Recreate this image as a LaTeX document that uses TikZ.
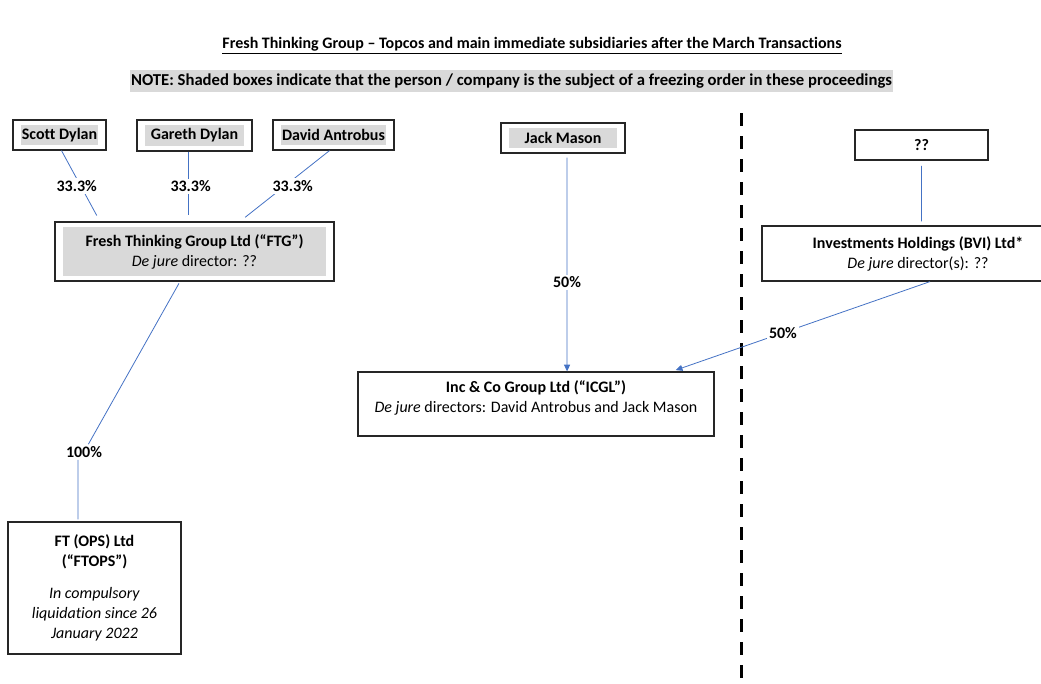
\documentclass[tikz,border=0pt]{standalone}
\usepackage{fontspec}
\setmainfont[Ligatures=NoCommon]{Carlito}
\usetikzlibrary{arrows.meta,positioning,calc}
\definecolor{shadeGray}{RGB}{217,217,217}
\definecolor{linkBlue}{RGB}{68,114,196}

\begin{document}
\begin{tikzpicture}[x=0.75pt,y=-0.75pt,font=\fontsize{12}{15}\selectfont]
		\tikzstyle{company} = [rectangle, draw=black!85, line width=0.9pt, fill=white, 
		align=center, inner sep=0pt]
		\tikzstyle{shaded} = [company, path picture={\fill[shadeGray] 
		($(path picture bounding box.south west)+(6pt,3.75pt)$) rectangle 
		($(path picture bounding box.north east)+(-6pt,-3.75pt)$);}]
		\tikzstyle{person} = [shaded, minimum height=22.5pt, font=\fontsize{12}{15}\selectfont\bfseries]
		\tikzstyle{link} = [draw=linkBlue, line width=0.6pt]
		\tikzstyle{arrow} = [link,-{Triangle[width=4.5pt,length=5pt]}]
		\tikzstyle{pct} = [fill=white, inner sep=1.5pt, font=\fontsize{12}{15}\selectfont\bfseries]
		\useasboundingbox (0,0) rectangle (1041,683);
		\node (title) at (532,46) {\bfseries\underline{Fresh Thinking Group – Topcos and main immediate subsidiaries after the March Transactions}};
		\node (note) [fill=shadeGray, inner xsep=1pt, inner ysep=2.5pt, font=\fontsize{12.5}{15}\selectfont\bfseries] at (511.5,81) 
		{NOTE: Shaded boxes indicate that the person / company is the subject of a freezing order in these proceedings};
		\node (scottDylan) [person, minimum width=69.75pt] at (59.5,135) {Scott Dylan};
		\node (garethDylan) [person, minimum width=86.25pt, minimum height=23.25pt] at (194.5,135.5) {Gareth Dylan};
		\node (davidAntrobus) [person, minimum width=90.75pt] at (333.5,135) {David Antrobus};
		\node (ftg) [shaded, minimum width=209.25pt, minimum height=44.25pt] at (194.5,251.5) 
		{\textbf{Fresh Thinking Group Ltd (“FTG”)}\\\textit{De jure} director: ??};
		\node (ftops) [company, minimum width=129.75pt, minimum height=99pt] at (94.5,588) 
		{\textbf{FT (OPS) Ltd}\\\textbf{(“FTOPS”)}\\[9pt]\textit{In compulsory}\\\textit{liquidation since 26}\\\textit{January 2022}};
		\node (jackMason) [person, minimum width=93pt] at (563,138) {Jack Mason};
		\node (icgl) [company, minimum width=267pt, minimum height=48pt] at (536,404) 
		{\textbf{Inc \& Co Group Ltd (“ICGL”)}\\\textit{De jure} directors: David Antrobus and Jack Mason\\[-4pt]};
		\node (unknownOwner) [company, minimum width=99.75pt, minimum height=22.5pt, font=\fontsize{12}{15}\selectfont\bfseries] at (921.5,145) {??};
		\node (bvi) [company, minimum width=234pt, minimum height=41.25pt] at (918,253.5) 
		{\textbf{Investments Holdings (BVI) Ltd*}\\\textit{De jure} director(s): ??};
		\coordinate (dividerTop) at (741,113);
		\coordinate (dividerBottom) at (741,683);
		\draw [line width=2.25pt, dash pattern=on 9.75pt off 7.5pt] (dividerTop) -- (dividerBottom);
		\draw [link, shorten >=5pt] ([xshift=1.5pt]scottDylan.south) -- node (pctScott) [pct, xshift=-3pt] {33.3\%} ([xshift=-70.9pt]ftg.north);
		\draw [link, shorten >=5pt] ([xshift=-4.9pt]garethDylan.south) -- node (pctGareth) [pct, xshift=2pt] {33.3\%} ([xshift=-4.9pt]ftg.north);
		\draw [link, shorten >=5pt] ([xshift=-3pt]davidAntrobus.south) -- node (pctDavid) [pct, xshift=6pt] {33.3\%} ([xshift=34.1pt]ftg.north);
		\node (pctFtops) [pct] at (84,452) {100\%};
		\draw [link, shorten <=1.5pt] ([xshift=-10.9pt]ftg.south) -- (pctFtops);
		\draw [link, shorten >=1.5pt] ([xshift=-4.5pt]pctFtops.south) -- ([xshift=-12.4pt]ftops.north);
		\draw [arrow, shorten <=3pt] ([xshift=3pt]jackMason.south) -- node (pctJack) [pct, pos=0.59] {50\%} ([xshift=23.3pt]icgl.north);
		\draw [link, shorten <=4pt, shorten >=3pt] (unknownOwner.south) -- ([xshift=2.6pt]bvi.north);
		\draw [arrow, shorten >=3pt] ([xshift=9pt]bvi.south) -- node (pctBvi) [pct, pos=0.57] {50\%} ([xshift=102pt]icgl.north);
		\end{tikzpicture}
\end{document}
